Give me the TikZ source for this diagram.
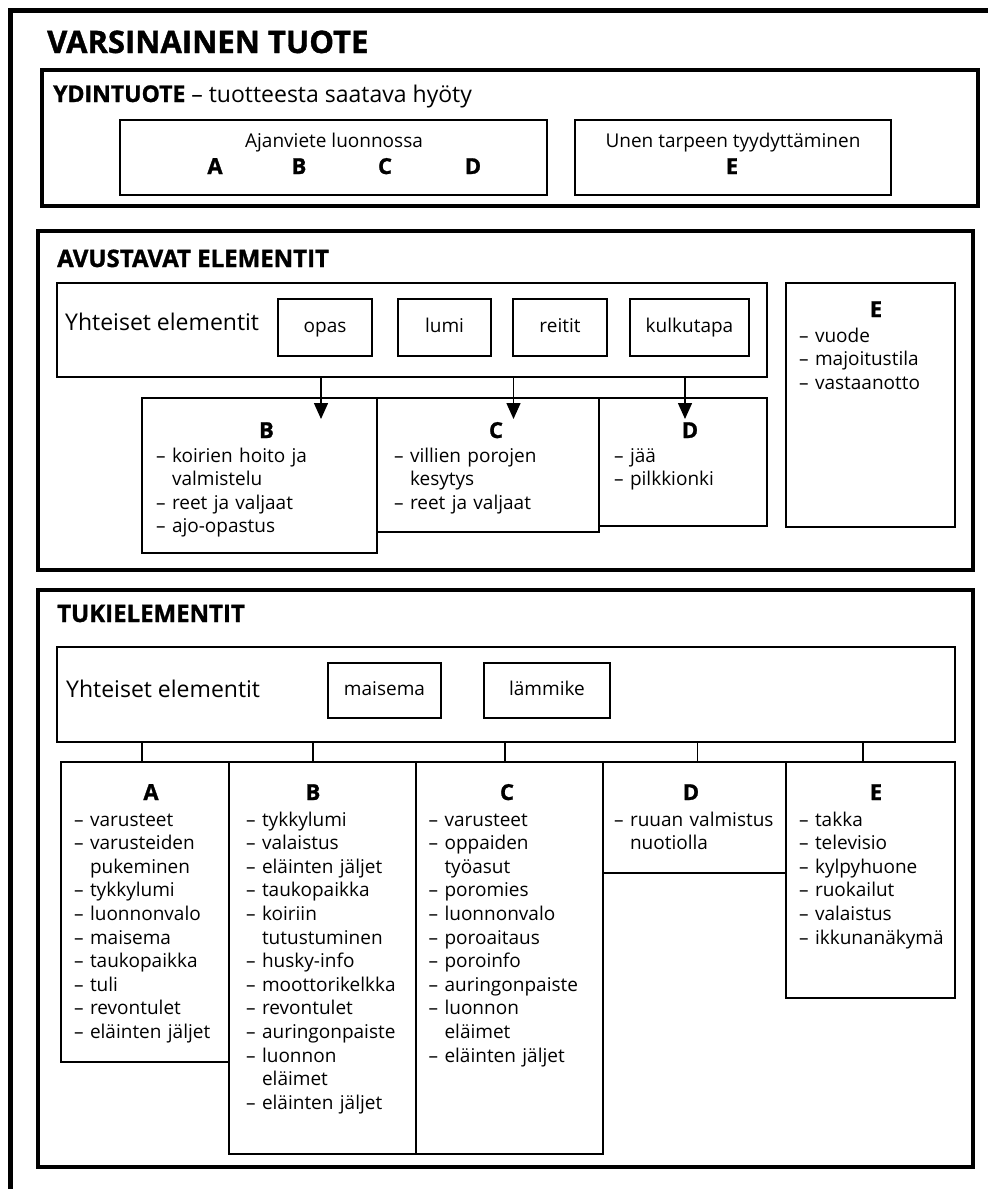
\documentclass[tikz,border=0pt]{standalone}
\usepackage{fontspec}
\setmainfont{Open Sans}
% heavier bold for headings and column letters
\newfontfamily\heavy[FakeBold=1.2]{Open Sans}
\usetikzlibrary{arrows.meta}

% indentation equal to the width of a leading "– "
\newcommand\hang{\phantom{–\ }}
% \mybox{name}{x1}{y1}{x2}{y2}{style}{text}
\newcommand\mybox[7]{%
  \node[#6, minimum width={(#4-#2)*1pt}, minimum height={(#5-#3)*1pt}]
    (#1) at ({(#2+#4)/2},{(#3+#5)/2}) {#7};}

\tikzset{
  frame/.style={line width=5pt, line join=miter},
  section/.style={draw, line width=3.4pt, inner sep=0pt},
  cell/.style={draw, line width=1.7pt, inner sep=0pt,
    font=\fontsize{19}{23.6}\selectfont, text height=14pt, text depth=4pt},
  body/.style={inner sep=0pt, font=\fontsize{19}{23.6}\selectfont},
  list/.style={body, anchor=base west, text width=220pt, align=left},
  head/.style={inner sep=0pt, anchor=base west, font=\fontsize{31}{36}\selectfont\heavy\bfseries},
  subhead/.style={inner sep=0pt, anchor=base west, font=\fontsize{24}{28}\selectfont\heavy\bfseries},
  letter/.style={inner sep=0pt, anchor=base, font=\fontsize{22}{26}\selectfont\heavy\bfseries},
  big/.style={inner sep=0pt, anchor=base west, font=\fontsize{23}{28}\selectfont},
  link/.style={line width=1.5pt, -{Triangle[length=16pt,width=14pt]}},
  tick/.style={line width=1.5pt},
}

\begin{document}
\begin{tikzpicture}[x=1pt,y=-1pt]
\useasboundingbox (0,0) rectangle (988,1189);
\clip (0,0) rectangle (988,1189);

% outer frame (runs off the page to the right and below)
\draw[frame] (10,1200) -- (10,10.5) -- (1000,10.5);
\node[head] (title) at (47,53) {VARSINAINEN TUOTE};

% ---------- core product ----------
\mybox{core}{42}{70}{978}{206}{section}{}
\node[big] (coret) at (53,102) {{\heavy\bfseries YDINTUOTE} – tuotteesta saatava hyöty};
\mybox{leisure}{120}{120}{547}{195}{cell}{}
\node[body, anchor=base] (leisuret) at (334,147) {Ajanviete luonnossa};
\node[letter] (lA) at (215,174) {A};
\node[letter] (lB) at (299,174) {B};
\node[letter] (lC) at (385,174) {C};
\node[letter] (lD) at (473,174) {D};
\mybox{sleep}{575}{120}{891}{195}{cell}{}
\node[body, anchor=base] (sleept) at (733,147) {Unen tarpeen tyydyttäminen};
\node[letter] (lE) at (732,174) {E};

% ---------- facilitating elements ----------
\mybox{facil}{38}{231}{973}{570}{section}{}
\node[subhead] (facilt) at (57,267) {AVUSTAVAT ELEMENTIT};
\mybox{shared1}{57}{283}{767}{377}{cell}{}
\node[big] (shared1t) at (65,330) {Yhteiset elementit};
\mybox{guide}{278}{299}{372}{356}{cell}{opas}
\mybox{snow}{398}{299}{491}{356}{cell}{lumi}
\mybox{routes}{513}{299}{607}{356}{cell}{reitit}
\mybox{mode}{630}{299}{749}{356}{cell}{kulkutapa}

\mybox{fB}{142}{398}{377}{553}{cell}{}
\mybox{fC}{377}{398}{599}{532}{cell}{}
\mybox{fD}{599}{398}{767}{526}{cell}{}
\mybox{fE}{786}{283}{955}{527}{cell}{}

\coordinate (aB) at (321,419);
\coordinate (aC) at (513.5,419);
\coordinate (aD) at (685,419);
\draw[link] (aB |- shared1.south) -- (aB);
\draw[link] (aC |- shared1.south) -- (aC);
\draw[link] (aD |- shared1.south) -- (aD);

\node[letter] (fBt) at (266.5,438) {B};
\node[list] (fBl) at (156,462) {– koirien hoito ja\\\hang valmistelu\\– reet ja valjaat\\– ajo-opastus};
\node[letter] (fCt) at (496,438) {C};
\node[list] (fCl) at (394,462) {– villien porojen\\\hang kesytys\\– reet ja valjaat};
\node[letter] (fDt) at (690,438) {D};
\node[list] (fDl) at (614,462) {– jää\\– pilkkionki};
\node[letter] (fEt) at (876,317) {E};
\node[list] (fEl) at (799,342) {– vuode\\– majoitustila\\– vastaanotto};

% ---------- supporting elements ----------
\mybox{supp}{38}{590}{973}{1167}{section}{}
\node[subhead] (suppt) at (57,622) {TUKIELEMENTIT};
\mybox{shared2}{57}{647}{955}{742}{cell}{}
\node[big] (shared2t) at (66,697) {Yhteiset elementit};
\mybox{scenery}{328}{663}{441}{718}{cell}{maisema}
\mybox{warmer}{484}{663}{610}{718}{cell}{lämmike}

\mybox{sA}{61}{762}{229}{1062}{cell}{}
\mybox{sB}{229}{762}{416}{1154}{cell}{}
\mybox{sC}{416}{762}{603}{1154}{cell}{}
\mybox{sD}{603}{762}{786}{873}{cell}{}
\mybox{sE}{786}{762}{955}{998}{cell}{}

\coordinate (tA) at (142,762);
\coordinate (tB) at (313,762);
\coordinate (tC) at (505,762);
\coordinate (tD) at (697.5,762);
\coordinate (tE) at (863,762);
\foreach \t in {tA,tB,tC,tD,tE} \draw[tick] (\t |- shared2.south) -- (\t);

\node[letter] (sAt) at (151,800) {A};
\node[list] (sAl) at (74,826) {– varusteet\\– varusteiden\\\hang pukeminen\\– tykkylumi\\– luonnonvalo\\– maisema\\– taukopaikka\\– tuli\\– revontulet\\– eläinten jäljet};
\node[letter] (sBt) at (313,800) {B};
\node[list] (sBl) at (246,826) {– tykkylumi\\– valaistus\\– eläinten jäljet\\– taukopaikka\\– koiriin\\\hang tutustuminen\\– husky-info\\– moottorikelkka\\– revontulet\\– auringonpaiste\\– luonnon\\\hang eläimet\\– eläinten jäljet};
\node[letter] (sCt) at (507,800) {C};
\node[list] (sCl) at (428.5,826) {– varusteet\\– oppaiden\\\hang työasut\\– poromies\\– luonnonvalo\\– poroaitaus\\– poroinfo\\– auringonpaiste\\– luonnon\\\hang eläimet\\– eläinten jäljet};
\node[letter] (sDt) at (691,800) {D};
\node[list] (sDl) at (614,826) {– ruuan valmistus\\\hang nuotiolla};
\node[letter] (sEt) at (876,800) {E};
\node[list] (sEl) at (799,826) {– takka\\– televisio\\– kylpyhuone\\– ruokailut\\– valaistus\\– ikkunanäkymä};
\end{tikzpicture}
\end{document}
